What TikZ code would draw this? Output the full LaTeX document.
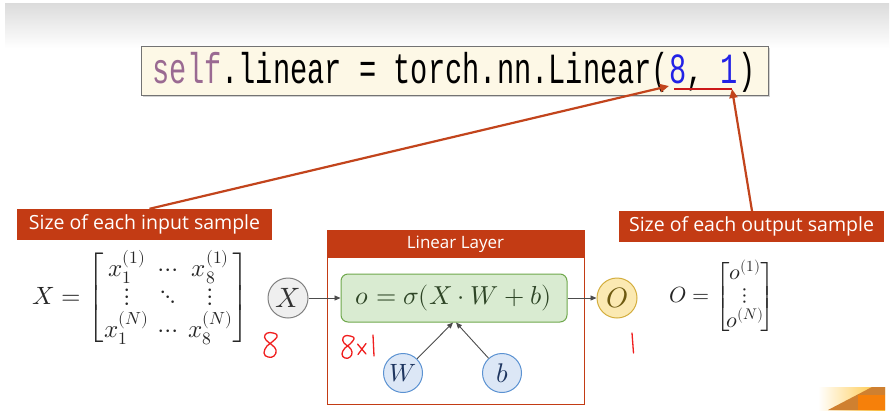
\documentclass[tikz,border=0pt]{standalone}
\usepackage{amsmath}
\usepackage{fontspec}
\usepackage{unicode-math}
\setmathfont{Latin Modern Math}
\setsansfont{Open Sans}
\newfontfamily\codefont{Liberation Mono}
\usetikzlibrary{arrows.meta,shadows}

\definecolor{labred}{HTML}{C33B14}
\definecolor{arrred}{HTML}{C2441C}
\definecolor{inkred}{HTML}{F01E1E}
\definecolor{codebg}{HTML}{FDF8E6}
\definecolor{selfcol}{HTML}{9A6A92}
\definecolor{numblue}{HTML}{2222E6}
\definecolor{grfill}{HTML}{D9EBD1}
\definecolor{grline}{HTML}{6FA84C}
\definecolor{grtext}{HTML}{2E4526}
\definecolor{xfill}{HTML}{EFEFEF}
\definecolor{xline}{HTML}{808080}
\definecolor{ofill}{HTML}{FBE9B2}
\definecolor{oline}{HTML}{D4AE3E}
\definecolor{otext}{HTML}{6E5A10}
\definecolor{bfill}{HTML}{DCE7F6}
\definecolor{bline}{HTML}{5B92D2}
\definecolor{btext}{HTML}{1E355F}

\tikzset{
  redlabel/.style={fill=labred, text=white, font=\sffamily\fontsize{19.5}{19.5}\selectfont,
    inner sep=0pt, minimum height=31pt, anchor=center},
  callout/.style={draw=arrred, line width=2.2pt, -{Triangle[length=9pt,width=8pt]}},
  flow/.style={draw=black!70, line width=0.9pt, -{Triangle[length=6pt,width=5pt]}},
  varcircle/.style={circle, minimum size=40pt, inner sep=0pt, line width=1pt,
    font=\fontsize{28}{28}\selectfont},
  ink/.style={draw=inkred, line width=1.3pt, line cap=round, line join=round},
}

\begin{document}
\begin{tikzpicture}[x=1pt,y=-1pt]
\useasboundingbox (0,0) rectangle (894,418);
\fill[white] (0,0) rectangle (894,418);
% slide header band
\shade[top color=black!14, bottom color=white] (5,3) rectangle (889,48);

% code line
\node[draw=black!55, line width=0.8pt, fill=codebg, drop shadow={shadow xshift=2pt,shadow yshift=-2pt,opacity=0.35},
      minimum width=627pt, minimum height=49pt, inner sep=0pt] (code) at (454.5,70.5) {};
\node[inner sep=0pt] (codetxt) at (454,72) {\scalebox{0.70}[1.05]{\codefont\fontsize{41}{41}\selectfont
  \textcolor{selfcol}{self}.linear = torch.nn.Linear(\textcolor{numblue}{8}, \textcolor{numblue}{1})}};
\coordinate (inarg) at (669,86);
\coordinate (outarg) at (732,89);
\coordinate (ulstart) at (674,89);
\draw[draw=inkred!85!black, line width=1.2pt] (ulstart) -- (outarg);

% callout labels
\node[redlabel, minimum width=255pt] (inlab) at (144.5,224.5) {Size of each input sample};
\node[redlabel, minimum width=265pt] (outlab) at (751.5,226.5) {Size of each output sample};
\draw[callout] (inlab.north) ++(5,0) coordinate (inlabtop) -- (inarg);
\draw[callout] (752,211) coordinate (outlabtop) -- (outarg);

% input matrix
\node[inner sep=0pt, text=black!85] (xmat) at (141,298) {\fontsize{25}{29}\selectfont
  $X = \renewcommand{\arraystretch}{0.92}\begin{bmatrix}
  x_1^{(1)} & \cdots & x_8^{(1)}\\
  \vdots & \ddots & \vdots\\
  x_1^{(N)} & \cdots & x_8^{(N)}
  \end{bmatrix}$};

% output matrix
\node[inner sep=0pt, text=black!85] (omat) at (722,297) {\fontsize{22}{25}\selectfont
  $O = \renewcommand{\arraystretch}{0.88}\begin{bmatrix}
  \!o^{(1)}\!\\ \vdots\\ \!o^{(N)}\!
  \end{bmatrix}$};

% linear layer frame
\node[draw=labred, line width=1pt, minimum width=257pt, minimum height=174pt, inner sep=0pt] (layer) at (455.5,317) {};
\node[fill=labred, text=white, minimum width=257pt, minimum height=28pt, inner sep=0pt,
      font=\sffamily\fontsize{17}{17}\selectfont] (layerhead) at (455.5,244) {Linear Layer};

% nodes of the layer
\node[varcircle, draw=xline, fill=xfill, text=black!80] (X) at (288,298) {$X$};
\node[draw=grline, fill=grfill, line width=1pt, rounded corners=7pt, minimum width=226pt,
      minimum height=48pt, inner sep=0pt, text=grtext, font=\fontsize{26}{26}\selectfont] (f) at (454,298)
      {$o = \sigma(X\cdot W + b)$};
\node[varcircle, draw=oline, fill=ofill, text=otext] (O) at (617,298) {$O$};
\node[varcircle, draw=bline, fill=bfill, text=btext, minimum size=39pt, font=\fontsize{25}{25}\selectfont] (W) at (403,373) {$W$};
\node[varcircle, draw=bline, fill=bfill, text=btext, minimum size=39pt, font=\fontsize{27}{27}\selectfont] (b) at (502,373) {$b$};

\draw[flow] (X) -- (f);
\draw[flow] (f) -- (O);
\draw[flow] (W) -- (f.south -| 453,0);
\draw[flow] (b) -- (f.south -| 456,0);

% handwritten sizes
\draw[ink] plot[smooth, tension=0.8] coordinates {(276,334) (270,332.5) (265,335) (266,340) (272,345) (276,350) (274,356) (268,357) (264,353) (267,346) (272,342) (277,337) (276,334)};
\draw[ink] plot[smooth, tension=0.8] coordinates {(353,337) (347,335.5) (343,338) (344,343) (349,347) (352,352) (350,357) (345,358) (342,354) (345,348) (350,344) (354,339) (353,337)};
\draw[ink] (357.5,344) -- (366,354);
\draw[ink] (366,343.5) -- (358,354.5);
\draw[ink] (373,335) -- (374,356);
\draw[ink] (632,333) -- (633.5,353);

% corner of a photo at the lower right
\shade[left color=white, right color=orange!60!yellow!80] (818,387) rectangle (885,410);
\fill[brown!75!orange] (828,410) -- (872,387) -- (885,387) -- (885,410) -- cycle;
\fill[orange!85!brown] (858,395) rectangle (885,410);
\end{tikzpicture}
\end{document}
